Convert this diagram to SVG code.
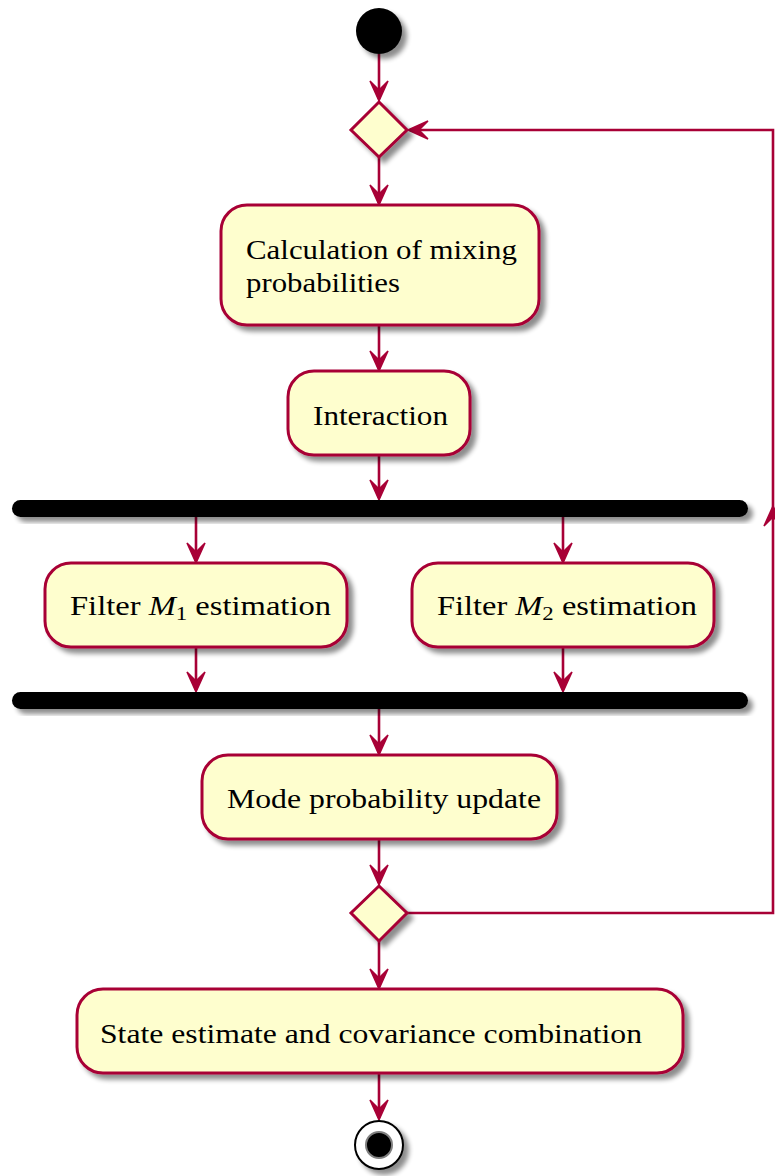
<svg xmlns="http://www.w3.org/2000/svg" width="775" height="1176" viewBox="0 0 775 1176">
<style>
.box{fill:#FEFECE;stroke:#A80036;stroke-width:3}
.bar{fill:#000}
.ln{fill:none;stroke:#A80036;stroke-width:2.6}
.ah{fill:#A80036;stroke:#A80036;stroke-width:1.5;stroke-linejoin:miter}
.t{font-family:"Liberation Serif","DejaVu Serif",serif;font-size:27px;fill:#000}
</style>
<defs>
<filter id="sh" x="-20%" y="-20%" width="150%" height="160%">
<feGaussianBlur in="SourceAlpha" stdDeviation="2.5"/>
<feOffset dx="5" dy="5" result="b"/>
<feComponentTransfer><feFuncA type="linear" slope="0.45"/></feComponentTransfer>
<feMerge><feMergeNode/><feMergeNode in="SourceGraphic"/></feMerge>
</filter>
<polygon id="ad" points="0,0 -9,-20 0,-11 9,-20" class="ah"/>
</defs>
<rect width="775" height="1176" fill="#fff"/>

<g id="connectors">
<line class="ln" x1="379" y1="54" x2="379" y2="99"/>
<line class="ln" x1="379" y1="157" x2="379" y2="203"/>
<line class="ln" x1="379" y1="325" x2="379" y2="369"/>
<line class="ln" x1="379" y1="455" x2="379" y2="498"/>
<line class="ln" x1="196" y1="517" x2="196" y2="561"/>
<line class="ln" x1="563" y1="517" x2="563" y2="561"/>
<line class="ln" x1="196" y1="647" x2="196" y2="690"/>
<line class="ln" x1="563" y1="647" x2="563" y2="690"/>
<line class="ln" x1="379" y1="709" x2="379" y2="753"/>
<line class="ln" x1="379" y1="839" x2="379" y2="883"/>
<line class="ln" x1="379" y1="941" x2="379" y2="987"/>
<line class="ln" x1="379" y1="1073" x2="379" y2="1118"/>
<polyline class="ln" points="407,913 773,913 773,130 410,130"/>
<use href="#ad" x="379" y="101"/>
<use href="#ad" x="379" y="205"/>
<use href="#ad" x="379" y="371"/>
<use href="#ad" x="379" y="500"/>
<use href="#ad" x="196" y="563"/>
<use href="#ad" x="563" y="563"/>
<use href="#ad" x="196" y="692"/>
<use href="#ad" x="563" y="692"/>
<use href="#ad" x="379" y="755"/>
<use href="#ad" x="379" y="885"/>
<use href="#ad" x="379" y="989"/>
<use href="#ad" x="379" y="1120"/>
<use href="#ad" transform="translate(408,130) rotate(90)"/>
<use href="#ad" transform="translate(773,506) rotate(180)"/>
</g>

<g id="start"><circle cx="379" cy="31" r="23" fill="#000" filter="url(#sh)"/></g>

<g id="merge1"><polygon class="box" filter="url(#sh)" points="379,102 407,130 379,157 351,130"/></g>

<g id="calc">
<rect class="box" filter="url(#sh)" x="221" y="205" width="318" height="120" rx="26"/>
<text class="t" x="246" y="259" textLength="271" lengthAdjust="spacingAndGlyphs">Calculation of mixing</text>
<text class="t" x="246" y="292" textLength="154" lengthAdjust="spacingAndGlyphs">probabilities</text>
</g>

<g id="interaction">
<rect class="box" filter="url(#sh)" x="288" y="371" width="182" height="84" rx="26"/>
<text class="t" x="313" y="425" textLength="135" lengthAdjust="spacingAndGlyphs">Interaction</text>
</g>

<g id="fork"><rect class="bar" filter="url(#sh)" x="12" y="500" width="736" height="17" rx="8.5"/></g>

<g id="filter1">
<rect class="box" filter="url(#sh)" x="45" y="563" width="302" height="84" rx="26"/>
<text class="t" x="70" y="615" textLength="261" lengthAdjust="spacingAndGlyphs">Filter <tspan font-style="italic">M</tspan><tspan font-size="19" dy="5">1</tspan><tspan dy="-5"> estimation</tspan></text>
</g>

<g id="filter2">
<rect class="box" filter="url(#sh)" x="412" y="563" width="302" height="84" rx="26"/>
<text class="t" x="437" y="615" textLength="260" lengthAdjust="spacingAndGlyphs">Filter <tspan font-style="italic">M</tspan><tspan font-size="19" dy="5">2</tspan><tspan dy="-5"> estimation</tspan></text>
</g>

<g id="join"><rect class="bar" filter="url(#sh)" x="12" y="692" width="736" height="17" rx="8.5"/></g>

<g id="mode">
<rect class="box" filter="url(#sh)" x="202" y="755" width="355" height="84" rx="26"/>
<text class="t" x="227" y="808" textLength="314" lengthAdjust="spacingAndGlyphs">Mode probability update</text>
</g>

<g id="decision"><polygon class="box" filter="url(#sh)" points="379,886 407,913 379,941 351,913"/></g>

<g id="combine">
<rect class="box" filter="url(#sh)" x="77" y="989" width="606" height="84" rx="26"/>
<text class="t" x="100" y="1043" textLength="542" lengthAdjust="spacingAndGlyphs">State estimate and covariance combination</text>
</g>

<g id="end">
<circle cx="379" cy="1145" r="24" fill="#fff" stroke="#000" stroke-width="2" filter="url(#sh)"/>
<circle cx="379" cy="1145" r="13" fill="#000" stroke="#7f7f7f" stroke-width="2"/>
</g>
</svg>
